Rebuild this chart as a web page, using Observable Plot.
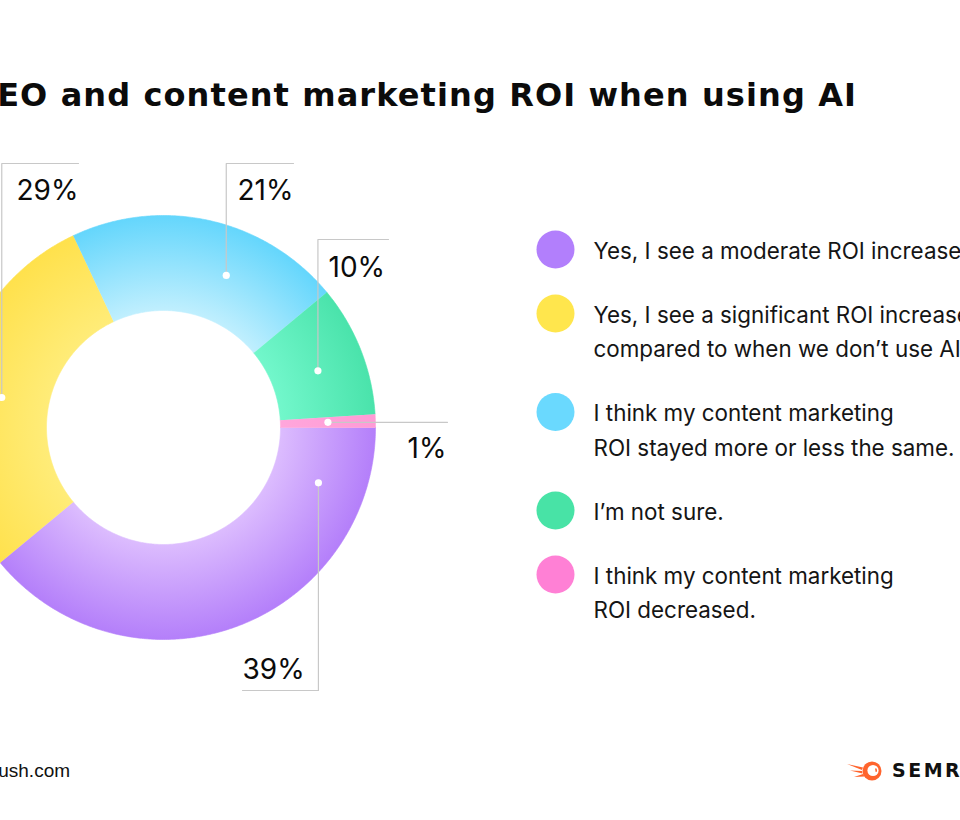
<!DOCTYPE html>
<html>
<head>
<meta charset="utf-8">
<script src="https://cdn.jsdelivr.net/npm/d3@7"></script>
<script src="https://cdn.jsdelivr.net/npm/@observablehq/plot@0.6"></script>
<style>
  body { margin: 0; background: #fff; }
  #page { position: relative; width: 960px; height: 820px; overflow: hidden; font-family: Inter, sans-serif; color: #111; }
  #head { position: relative; height: 150px; }
  #head h1 { position: absolute; left: -27px; top: 76px; margin: 0; font: 700 32px/38px "DejaVu Sans", sans-serif; letter-spacing: 1.1px; white-space: nowrap; color: #0b0b0b; }
  #chart { height: 590px; }
  #chart svg { display: block; }
  #foot { position: relative; height: 80px; }
  #source { position: absolute; left: -44px; top: 21px; font: 400 19px/19px "Liberation Sans", Arial, sans-serif; color: #111; white-space: nowrap; }
  #logo { position: absolute; left: 846px; top: 19px; white-space: nowrap; }
  #logo svg { position: absolute; left: 0; top: 1px; }
  #logo span { position: absolute; left: 46px; top: 0; font: 700 19px/22px "DejaVu Sans", sans-serif; letter-spacing: 2.5px; color: #111; }
</style>
</head>
<body>
<div id="page">
  <div id="head"><h1>SEO and content marketing ROI when using AI</h1></div>
  <div id="chart"></div>
  <div id="foot">
    <div id="source">semrush.com</div>
    <div id="logo">
      <svg width="38" height="22" viewBox="0 0 38 22">
        <path d="M1 4 L17 7.5 L16 10 Z" fill="#ff642d"/>
        <path d="M4 10.5 L16 11 L16.5 13.5 Z" fill="#ff642d"/>
        <path d="M8 17 L17 14 L18.5 16.5 Z" fill="#ff642d"/>
        <circle cx="26" cy="11" r="9.5" fill="#ff642d"/>
        <circle cx="27" cy="10.5" r="5.6" fill="#fff"/>
        <path d="M29.5 8.5 a3 3 0 0 1 0.5 3.2" stroke="#ff642d" stroke-width="1.6" fill="none"/>
      </svg>
      <span>SEMRUSH</span>
    </div>
  </div>
</div>
<script>
// Survey answers, clockwise from three o'clock
const answers = ["moderate", "significant", "same", "notSure", "decreased"];
const legendLabels = [
  "Yes, I see a moderate ROI increase",
  "Yes, I see a significant ROI increase\ncompared to when we don\u2019t use AI",
  "I think my content marketing\nROI stayed more or less the same.",
  "I\u2019m not sure.",
  "I think my content marketing\nROI decreased."
];
const shares = [39, 29, 21, 10, 1];
const shareLabels = ["39%", "29%", "21%", "10%", "1%"];

// Palette: legend swatch, light inner tone and deeper outer tone of each ring segment
const swatchColors = ["#b27ffc", "#ffe64d", "#6ad9fe", "#48e3a6", "#ff80d5"];
const innerColors  = ["#dcbcfe", "#ffec78", "#c0effe", "#72f7cb", "#ffa6db"];
const outerColors  = ["#b47ffa", "#ffe14c", "#64d6fc", "#4ae3ab", "#ff9bd6"];

// Geometry (pixels, origin at the ring centre, y pointing down)
const R_OUT = 212, R_IN = 117, R_MID = (R_OUT + R_IN) / 2;
const W = 960, H = 590, CX = 163, CY = 277;

// Leader routing for each share label
const leaderLayout = [
  {frac: 0.14, bendY: 263,  endX: 79,  textX: 79,   baseY: 251,  anchor: "start"},
  {frac: 0.48, bendY: -264, endX: -85, textX: -147, baseY: -228, anchor: "start"},
  {frac: 0.63, bendY: -264, endX: 130, textX: 74,   baseY: -228, anchor: "start"},
  {frac: 0.54, bendY: -188, endX: 225, textX: 165,  baseY: -151, anchor: "start"},
  {frac: 0.50, bendY: null, endX: 284, textX: 283,  baseY: 30,   anchor: "end"}
];

// Legend placement
const LEG_X = 392, LEG_TEXT_X = 430, LEG_Y0 = -178, ROW_GAP = 64, LINE_H = 34.5;
const LEG_SIZE = 22.4;

const polar = (a, r) => [r * Math.sin(a), -r * Math.cos(a)];

const arcs = d3.pie().sort(null).value(d => d)
  .startAngle(Math.PI / 2).endAngle(Math.PI / 2 + 2 * Math.PI)(shares);

// Ring segment outlines built from the pie angles
const segments = arcs.map((a, i) => {
  const n = Math.max(4, Math.ceil((a.endAngle - a.startAngle) / (Math.PI / 360)));
  const pts = [];
  for (let k = 0; k <= n; k++) {
    const t = a.startAngle + (a.endAngle - a.startAngle) * k / n;
    const [x, y] = polar(t, R_OUT);
    pts.push({x, y, key: answers[i]});
  }
  for (let k = n; k >= 0; k--) {
    const t = a.startAngle + (a.endAngle - a.startAngle) * k / n;
    const [x, y] = polar(t, R_IN);
    pts.push({x, y, key: answers[i]});
  }
  return pts;
});

// Label anchors and leader lines
const anchors = arcs.map((a, i) => {
  const t = a.startAngle + (a.endAngle - a.startAngle) * leaderLayout[i].frac;
  const [x, y] = polar(t, R_MID);
  return {x, y, key: answers[i]};
});
const leaders = anchors.flatMap((p, i) => {
  const L = leaderLayout[i];
  const route = L.bendY == null
    ? [[p.x, p.y], [L.endX, p.y]]
    : [[p.x, p.y], [p.x, L.bendY], [L.endX, L.bendY]];
  return route.map(([x, y]) => ({x, y, key: answers[i]}));
});
const LABEL_SIZE = 28;
const labels = shareLabels.map((t, i) => ({
  text: t, x: leaderLayout[i].textX, y: leaderLayout[i].baseY - 0.32 * LABEL_SIZE, anchor: leaderLayout[i].anchor
}));

// Legend rows
const legendRows = [];
let ly = LEG_Y0;
legendLabels.forEach((t, i) => {
  legendRows.push({text: t, y: ly, color: swatchColors[i]});
  ly += ROW_GAP + LINE_H * (t.split("\n").length - 1);
});

const chart = Plot.plot({
  width: W, height: H,
  margin: 0,
  x: {domain: [-CX, W - CX], range: [0, W], axis: null},
  y: {domain: [-CY, H - CY], range: [0, H], axis: null},
  style: {fontFamily: "Inter, sans-serif", background: "transparent", color: "#111"},
  marks: [
    ...segments.map((pts, i) => Plot.line(pts, {
      x: "x", y: "y", fill: `url(#seg-${i})`, stroke: `url(#seg-${i})`, strokeWidth: 0.6, curve: "linear"
    })),
    Plot.line(leaders, {x: "x", y: "y", z: "key", stroke: "#c8c8c8", strokeWidth: 1.2}),
    Plot.dot(anchors, {x: "x", y: "y", r: 3.6, fill: "#fff", stroke: null}),
    Plot.text(labels.filter(d => d.anchor === "start"), {
      x: "x", y: "y", text: "text", textAnchor: "start", lineAnchor: "middle", fontSize: LABEL_SIZE, fill: "#0b0b0b"
    }),
    Plot.text(labels.filter(d => d.anchor === "end"), {
      x: "x", y: "y", text: "text", textAnchor: "end", lineAnchor: "middle", fontSize: LABEL_SIZE, fill: "#0b0b0b"
    }),
    Plot.dot(legendRows, {x: () => LEG_X, y: "y", r: 19, fill: "color", stroke: null}),
    Plot.text(legendRows, {
      x: () => LEG_TEXT_X, y: "y", text: "text", textAnchor: "start", lineAnchor: "top",
      dy: -15, fontSize: LEG_SIZE, lineHeight: LINE_H / LEG_SIZE, fill: "#151515"
    })
  ],
  color: {type: "identity"}
});

// Radial shading for each ring segment, lighter toward the hole
const defs = d3.select(chart).insert("defs", ":first-child");
innerColors.forEach((c, i) => {
  const g = defs.append("radialGradient")
    .attr("id", `seg-${i}`)
    .attr("gradientUnits", "userSpaceOnUse")
    .attr("cx", CX).attr("cy", CY).attr("r", R_OUT);
  g.append("stop").attr("offset", 0).attr("stop-color", c);
  g.append("stop").attr("offset", R_IN / R_OUT).attr("stop-color", c);
  g.append("stop").attr("offset", 1).attr("stop-color", outerColors[i]);
});

document.getElementById("chart").appendChild(chart);
</script>
</body>
</html>
